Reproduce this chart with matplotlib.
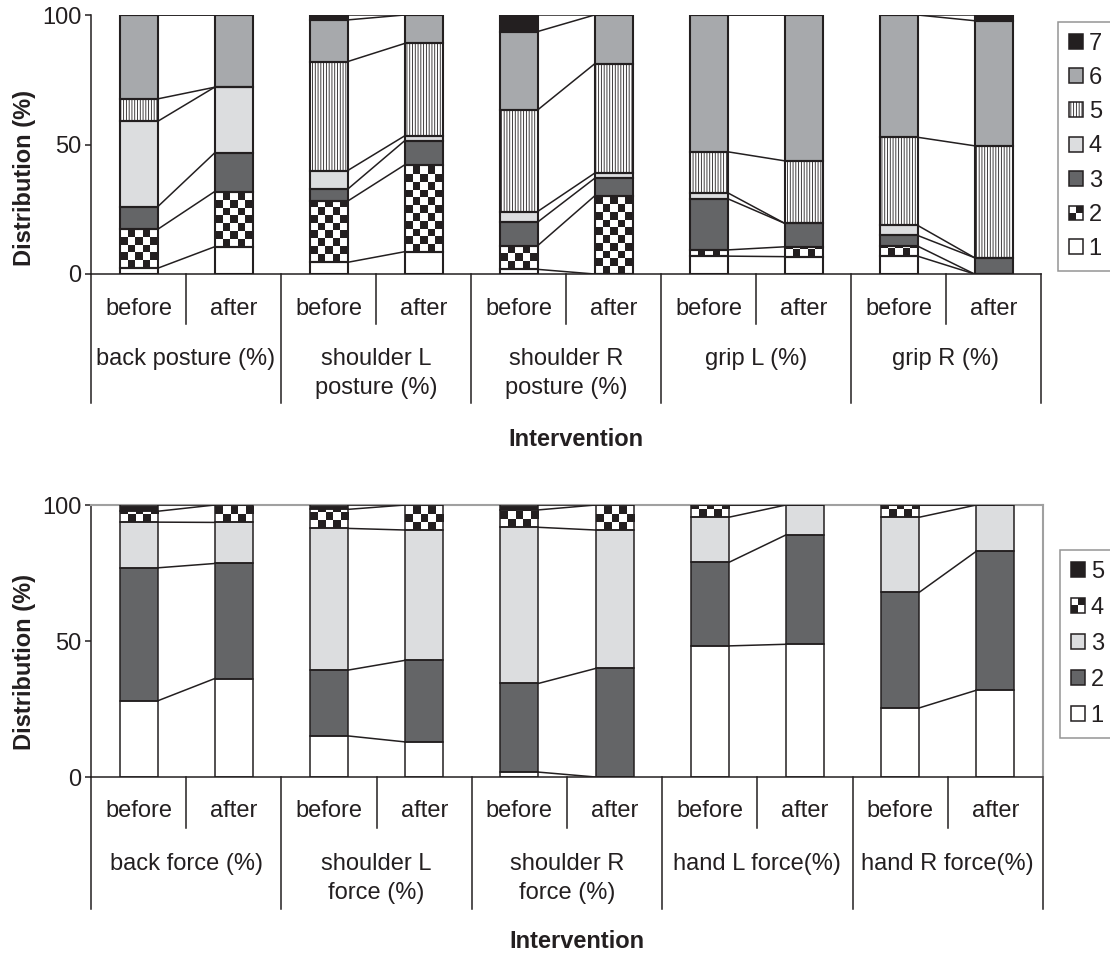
import numpy as np
import matplotlib
matplotlib.use("Agg")
import matplotlib.pyplot as plt
from matplotlib.patches import Rectangle, Patch
from matplotlib.legend_handler import HandlerBase
from matplotlib.colors import ListedColormap
from matplotlib import transforms

plt.rcParams['font.family'] = ['Liberation Sans', 'DejaVu Sans']
plt.rcParams['hatch.linewidth'] = 0.6

INK = '#231f20'

# ---- data -----------------------------------------------------------------
phases = ["before", "after"]
posture_groups = ["back posture (%)", "shoulder L\nposture (%)", "shoulder R\nposture (%)",
                  "grip L (%)", "grip R (%)"]
force_groups = ["back force (%)", "shoulder L\nforce (%)", "shoulder R\nforce (%)",
                "hand L force(%)", "hand R force(%)"]
posture_levels = ["1", "2", "3", "4", "5", "6", "7"]
force_levels = ["1", "2", "3", "4", "5"]

# bar order: back b/a, shoulder L b/a, shoulder R b/a, grip L b/a, grip R b/a
posture_1 = [2.2, 10.5, 4.5, 8.6, 1.8, 0.0, 6.9, 6.7, 6.9, 0.0]
posture_2 = [15.0, 21.3, 23.6, 33.5, 9.1, 30.1, 2.4, 3.8, 3.9, 0.0]
posture_3 = [8.7, 14.9, 4.6, 9.3, 9.1, 6.8, 19.8, 9.1, 4.1, 6.3]
posture_4 = [33.0, 25.4, 7.2, 1.9, 4.1, 2.0, 2.3, 0.0, 3.9, 0.0]
posture_5 = [8.7, 0.0, 42.1, 35.7, 39.2, 42.2, 15.8, 24.1, 34.0, 43.2]
posture_6 = [32.4, 27.9, 16.1, 11.0, 30.3, 18.9, 52.8, 56.3, 47.2, 48.3]
posture_7 = [0.0, 0.0, 1.9, 0.0, 6.4, 0.0, 0.0, 0.0, 0.0, 2.2]

force_1 = [28.0, 36.2, 15.1, 12.9, 1.8, 0.0, 48.2, 48.8, 25.4, 31.9]
force_2 = [48.9, 42.3, 24.2, 30.0, 32.6, 39.9, 30.7, 40.2, 42.5, 51.1]
force_3 = [16.8, 15.1, 52.1, 47.9, 57.4, 50.9, 16.6, 11.0, 27.6, 17.0]
force_4 = [4.0, 6.4, 7.0, 9.2, 6.4, 9.2, 4.5, 0.0, 4.5, 0.0]
force_5 = [2.3, 0.0, 1.6, 0.0, 1.8, 0.0, 0.0, 0.0, 0.0, 0.0]

posture = [posture_1, posture_2, posture_3, posture_4, posture_5, posture_6, posture_7]
force = [force_1, force_2, force_3, force_4, force_5]

# ---- styles ---------------------------------------------------------------
WHITE, DARK, LIGHT, MID = 'white', '#646567', '#dcdddf', '#a7a9ac'
posture_styles = [dict(color=WHITE), dict(color=WHITE, checker=True), dict(color=DARK),
                  dict(color=LIGHT), dict(color=WHITE, hatch='||||||'), dict(color=MID),
                  dict(color=INK)]
force_styles = [dict(color=WHITE), dict(color=DARK), dict(color=LIGHT),
                dict(color=WHITE, checker=True), dict(color=INK)]

W, H = 1110, 956
fig = plt.figure(figsize=(W / 100, H / 100), dpi=100)


def fy(px):
    return 1 - px / H


def add_checker(ax, rect, cell_h, ncols=5):
    x0, y0 = rect.get_x(), rect.get_y()
    w, h = rect.get_width(), rect.get_height()
    if h <= 0:
        return
    nrows = int(np.ceil(h / cell_h))
    arr = np.add.outer(np.arange(nrows), np.arange(ncols)) % 2
    im = ax.imshow(arr[::-1], cmap=ListedColormap([WHITE, INK]),
                   extent=(x0, x0 + w, y0, y0 + nrows * cell_h),
                   interpolation='nearest', aspect='auto', zorder=2.5)
    im.set_clip_path(rect)


class CheckerHandler(HandlerBase):
    def create_artists(self, legend, orig_handle, xdescent, ydescent, width,
                       height, fontsize, trans):
        s = min(width, height)
        x0, y0 = -xdescent, -ydescent + (height - s) / 2
        return [
            Rectangle((x0, y0), s, s, facecolor=WHITE, lw=0, transform=trans),
            Rectangle((x0 + s / 2, y0 + s / 2), s / 2, s / 2, facecolor=INK, lw=0, transform=trans),
            Rectangle((x0, y0), s / 2, s / 2, facecolor=INK, lw=0, transform=trans),
            Rectangle((x0, y0), s, s, fill=False, edgecolor=INK, lw=1.1, transform=trans),
        ]


def draw_panel(box, values, styles, levels, groups, cell_h, edge_lw, frame,
               axis_px, short_px, tall_px, phase_px, group_px, xlabel_px,
               ylabel_px, legend_anchor, legend_spacing, legend_pad):
    ax = fig.add_axes(box)
    n = len(values[0])
    x = np.arange(n) + 0.5
    width = 0.4
    bottoms = np.zeros(n)
    cums = []
    for vals, st in zip(values, styles):
        vals = np.asarray(vals, dtype=float)
        fills = ax.bar(x, vals, width, bottom=bottoms, color=st['color'],
                       hatch=st.get('hatch'), edgecolor=INK, linewidth=0, zorder=2)
        if st.get('checker'):
            for r in fills:
                add_checker(ax, r, cell_h)
        ax.bar(x, vals, width, bottom=bottoms, fill=False, edgecolor=INK,
               linewidth=edge_lw, zorder=4)
        bottoms = bottoms + vals
        cums.append(bottoms.copy())

    # series lines joining the before / after bars of each group
    for cum in cums:
        for g in range(n // 2):
            ax.plot([2 * g + 0.5 + width / 2, 2 * g + 1.5 - width / 2],
                    [cum[2 * g], cum[2 * g + 1]], color=INK, lw=1.1, zorder=3)

    ax.set_xlim(0, n)
    ax.set_ylim(0, 100)
    ax.set_xticks([])
    ax.set_yticks([0, 50, 100])
    ax.tick_params(axis='y', direction='out', length=4, width=1.1, pad=3,
                   labelsize=17, colors=INK)
    for s in ('left', 'bottom'):
        ax.spines[s].set_color(INK)
        ax.spines[s].set_linewidth(1.1)
    for s in ('top', 'right'):
        if frame:
            ax.spines[s].set_color('#a0a0a0')
            ax.spines[s].set_linewidth(1.5)
        else:
            ax.spines[s].set_visible(False)

    # two-level category axis
    trans = transforms.blended_transform_factory(ax.transData, fig.transFigure)
    for i in range(n + 1):
        end = tall_px if i % 2 == 0 else short_px
        ax.plot([i, i], [fy(axis_px), fy(end)], transform=trans, color=INK,
                lw=1.1, clip_on=False)
    for i in range(n):
        ax.text(i + 0.5, fy(phase_px), phases[i % 2], transform=trans,
                ha='center', va='center', fontsize=17, color=INK)
    for g, name in enumerate(groups):
        ax.text(2 * g + 1, fy(group_px), name, transform=trans, ha='center',
                va='top', multialignment='center', linespacing=1.42,
                fontsize=17, color=INK)
    ax.text(5.1, fy(xlabel_px), 'Intervention', transform=trans, ha='center',
            va='center', fontsize=17, fontweight='bold', color=INK)
    fig.text(25 / W, fy(ylabel_px), 'Distribution (%)', rotation=90,
             ha='center', va='center', fontsize=17, fontweight='bold', color=INK)

    # legend, highest level first
    handles, labels, hmap = [], [], {}
    for st, lab in zip(styles, levels):
        if st.get('checker'):
            h = Patch(facecolor=WHITE, edgecolor=INK)
            hmap[h] = CheckerHandler()
        else:
            h = Patch(facecolor=st['color'], edgecolor=INK, hatch=st.get('hatch'),
                      linewidth=1.1)
        handles.append(h)
        labels.append(lab)
    fig.legend(handles[::-1], labels[::-1], handler_map=hmap, loc='upper left',
               bbox_to_anchor=(legend_anchor[0] / W, fy(legend_anchor[1])),
               frameon=True, fancybox=False, edgecolor='#7a7a7a', fontsize=17,
               handlelength=0.6, handleheight=0.6, handletextpad=0.25,
               labelspacing=legend_spacing, borderpad=legend_pad, borderaxespad=0,
               labelcolor=INK).get_frame().set_linewidth(1.1)
    return ax


L, R = 91, 1041
draw_panel([L / W, fy(274), (R - L) / W, (274 - 15) / H], posture, posture_styles,
           posture_levels, posture_groups, cell_h=3.0, edge_lw=1.5, frame=False,
           axis_px=274, short_px=324, tall_px=403, phase_px=309, group_px=348,
           xlabel_px=440, ylabel_px=178, legend_anchor=(1058, 22),
           legend_spacing=0.52, legend_pad=0.45)
draw_panel([L / W, fy(777), (R + 2 - L) / W, (777 - 505) / H], force, force_styles,
           force_levels, force_groups, cell_h=2.85, edge_lw=1.1, frame=True,
           axis_px=777, short_px=828, tall_px=909, phase_px=811, group_px=853,
           xlabel_px=942, ylabel_px=662, legend_anchor=(1060, 550),
           legend_spacing=0.6, legend_pad=0.45)

fig.savefig('out.png', dpi=100)
